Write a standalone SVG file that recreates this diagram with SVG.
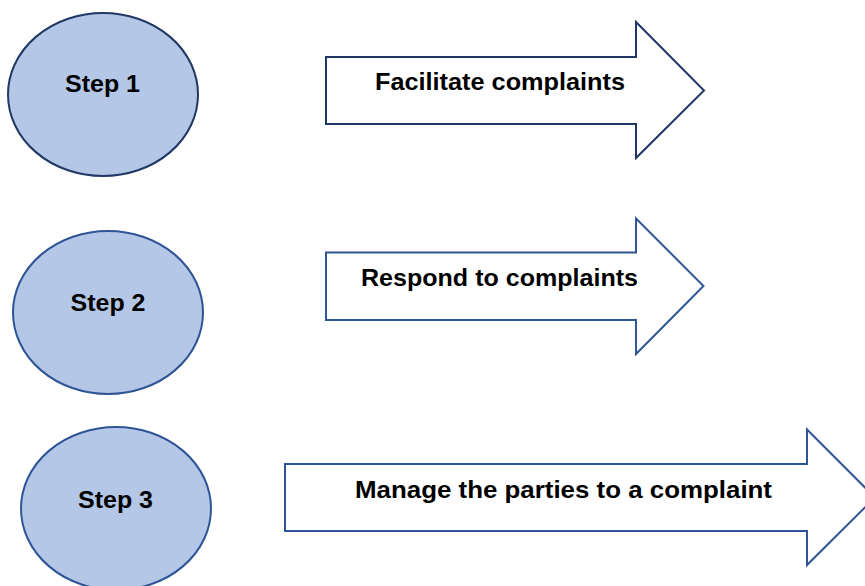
<svg xmlns="http://www.w3.org/2000/svg" width="865" height="586" viewBox="0 0 865 586">
<style>
.bg{fill:#ffffff}
.step{fill:#B4C7E7;stroke:#2F5597;stroke-width:2}
.step.dark{stroke:#203864}
.arrow{fill:#ffffff;stroke:#2F5597;stroke-width:2;stroke-linejoin:miter}
.arrow.dark{stroke:#203864}
.lbl{font-family:"Liberation Sans",Arial,sans-serif;font-weight:bold;font-size:24px;fill:#000000}
</style>
<rect class="bg" x="0" y="0" width="865" height="586"/>
<g id="connectors">
  <g id="arrow1">
    <path class="arrow dark" d="M326,57 H636 V22 L704,90.5 L636,158 V124 H326 Z"/>
    <text class="lbl" x="375" y="90" textLength="250" lengthAdjust="spacingAndGlyphs">Facilitate complaints</text>
  </g>
  <g id="arrow2">
    <path class="arrow" d="M326,252.5 H636 V218.5 L703.5,286 L636,354 V320 H326 Z"/>
    <text class="lbl" x="361" y="286" textLength="277" lengthAdjust="spacingAndGlyphs">Respond to complaints</text>
  </g>
  <g id="arrow3">
    <path class="arrow" d="M285,464 H807 V429.5 L875,497.5 L807,565 V531 H285 Z"/>
    <text class="lbl" x="355" y="498" textLength="417" lengthAdjust="spacingAndGlyphs">Manage the parties to a complaint</text>
  </g>
</g>
<g id="step1">
  <ellipse class="step dark" cx="103" cy="94.5" rx="95" ry="81.5"/>
  <text class="lbl" x="102.5" y="92" text-anchor="middle" textLength="75" lengthAdjust="spacingAndGlyphs">Step 1</text>
</g>
<g id="step2">
  <ellipse class="step" cx="108" cy="312.5" rx="95" ry="81.5"/>
  <text class="lbl" x="108" y="311" text-anchor="middle" textLength="75" lengthAdjust="spacingAndGlyphs">Step 2</text>
</g>
<g id="step3">
  <ellipse class="step" cx="116" cy="508.5" rx="95" ry="81.5"/>
  <text class="lbl" x="115.5" y="508" text-anchor="middle" textLength="75" lengthAdjust="spacingAndGlyphs">Step 3</text>
</g>
</svg>
